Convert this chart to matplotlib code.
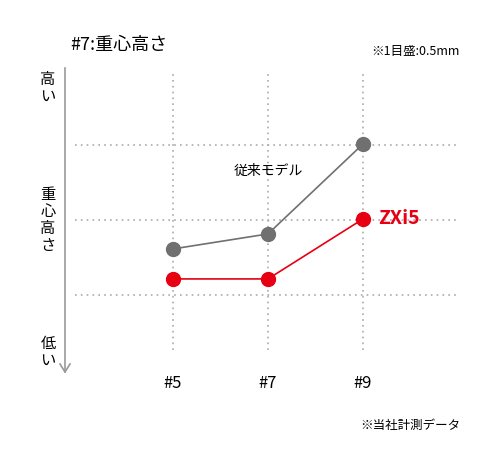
import matplotlib
matplotlib.use("Agg")
import matplotlib.pyplot as plt

plt.rcParams['font.family'] = ['Noto Sans CJK JP', 'DejaVu Sans']

models = ["#5", "#7", "#9"]
conventional = [0.307, 0.407, 1.007]   # mm
zxi5 = [0.107, 0.107, 0.507]           # mm
grid_y = [0.0, 0.5, 1.0]

gray = "#707070"
red = "#e60012"

fig = plt.figure(figsize=(5, 4.7), dpi=100)
ax = fig.add_axes([0.15, 0.2553, 0.77, 0.5957])
x = list(range(len(models)))

for gy in grid_y:
    ax.axhline(gy, color="#aaaaaa", ls=(0, (1, 2.5)), lw=1.2, zorder=0)
for gx in x:
    ax.axvline(gx, color="#aaaaaa", ls=(0, (1, 2.5)), lw=1.2, zorder=0)

ax.plot(x, conventional, color=gray, lw=1.2, marker="o", ms=10, zorder=3)
ax.plot(x, zxi5, color=red, lw=1.2, marker="o", ms=10, zorder=3)

ax.set_xlim(-1.03, 3.02)
ax.set_ylim(-0.367, 1.5)
ax.set_xticks([])
ax.set_yticks([])
for s in ax.spines.values():
    s.set_visible(False)

ax.text(1.0, 0.83, "従来モデル", fontsize=10, ha="center", va="center")
ax.text(2.16, 0.507, "ZXi5", fontsize=14, fontweight="bold", color=red,
        ha="left", va="center")

for i, m in enumerate(models):
    fig.text((173 + 95 * i) / 500, 1 - 383 / 470, m, fontsize=12,
             ha="center", va="center")

# y direction arrow
fig.add_artist(plt.Line2D([65 / 500, 65 / 500], [1 - 68 / 470, 1 - 372 / 470],
                          color="#999999", lw=1.2))
fig.add_artist(plt.Line2D([60 / 500, 65 / 500, 70 / 500],
                          [1 - 364 / 470, 1 - 372 / 470, 1 - 364 / 470],
                          color="#999999", lw=1.2))
fig.text(48 / 500, 1 - 88 / 470, "高\nい", fontsize=11, ha="center", va="center",
         linespacing=1.0)
fig.text(48 / 500, 1 - 220 / 470, "重\n心\n高\nさ", fontsize=11, ha="center",
         va="center", linespacing=1.0)
fig.text(48 / 500, 1 - 352 / 470, "低\nい", fontsize=11, ha="center", va="center",
         linespacing=1.0)

fig.text(70 / 500, 1 - 45 / 470, "#7:重心高さ", fontsize=13, ha="left", va="center")
fig.text(460 / 500, 1 - 52 / 470, "※1目盛:0.5mm", fontsize=9, ha="right", va="center")
fig.text(460 / 500, 1 - 425 / 470, "※当社計測データ", fontsize=9, ha="right", va="center")

fig.savefig("out.png", dpi=100)
